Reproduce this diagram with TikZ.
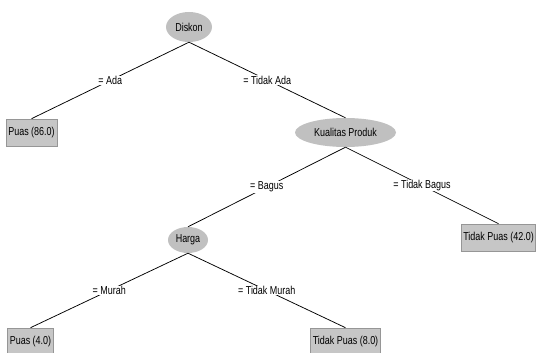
\documentclass[tikz,border=0pt]{standalone}
\usepackage{fontspec}
\setmainfont{Liberation Sans}[FakeStretch=0.78]
\usetikzlibrary{shapes.geometric}
\definecolor{nodegray}{RGB}{192,192,192}
\definecolor{leafgray}{RGB}{198,198,198}
\definecolor{leafborder}{RGB}{150,150,150}
\begin{document}
\begin{tikzpicture}[x=1pt,y=-1pt,
  every node/.style={font=\fontsize{11.5}{12}\selectfont},
  inner/.style={ellipse,fill=nodegray,inner sep=0pt},
  leaf/.style={rectangle,fill=leafgray,draw=leafborder,line width=0.6pt,inner xsep=2.5pt,inner ysep=0pt,minimum height=27pt},
  lbl/.style={fill=white,inner xsep=1.5pt,inner ysep=0.5pt,midway},
  edge/.style={draw=black,line width=0.75pt}]
\useasboundingbox (0,0) rectangle (536,353);
\node[inner,minimum width=46pt,minimum height=30pt] (diskon) at (189,27) {Diskon};
\node[inner,minimum width=101pt,minimum height=29pt] (kp) at (345.5,132.5) {Kualitas Produk};
\node[inner,minimum width=40pt,minimum height=26pt] (harga) at (188,240) {Harga};
\node[leaf] (l86) at (31.5,132.5) {Puas (86.0)};
\node[leaf,anchor=west,inner xsep=2pt] (l42) at (461,237.5) {Tidak Puas (42.0)};
\node[leaf] (l4) at (30.5,341.5) {Puas (4.0)};
\node[leaf] (l8) at (345.5,341.5) {Tidak Puas (8.0)};
\draw[edge] (diskon.south) -- node[lbl] {= Ada} (l86.north);
\draw[edge] (diskon.south) -- node[lbl] {= Tidak Ada} (kp.north);
\draw[edge] (kp.south) -- node[lbl] {= Bagus} (harga.north);
\draw[edge] (kp.south) -- node[lbl] {= Tidak Bagus} (l42.north);
\draw[edge] (harga.south) -- node[lbl] {= Murah} (l4.north);
\draw[edge] (harga.south) -- node[lbl] {= Tidak Murah} (l8.north);
\end{tikzpicture}
\end{document}
